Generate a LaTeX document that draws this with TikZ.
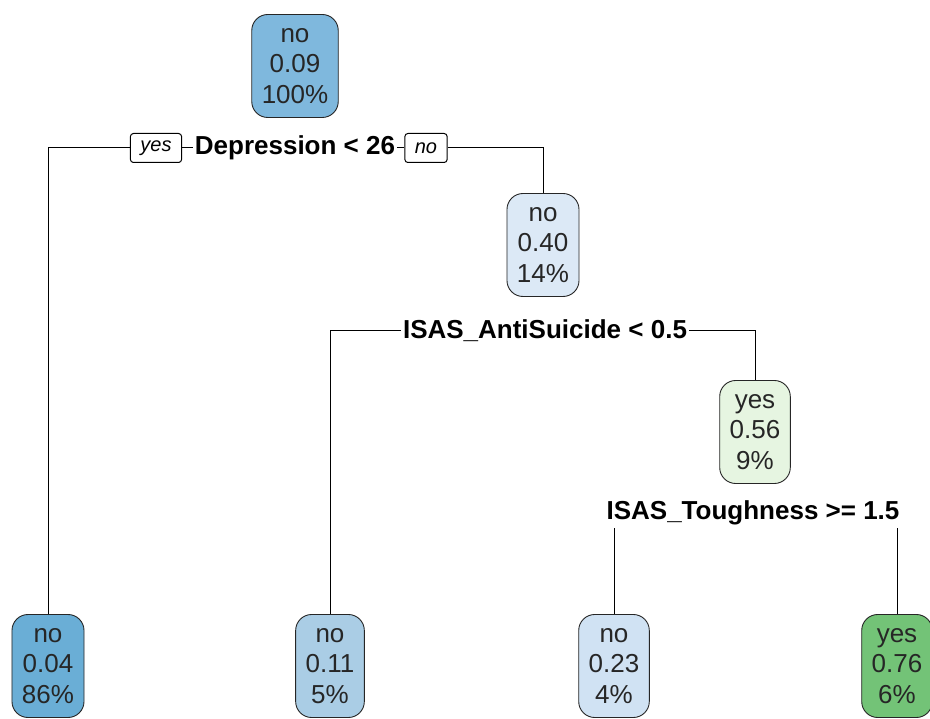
\documentclass[tikz,border=0pt]{standalone}
\usepackage{fontspec}
\setmainfont{Liberation Sans}
\definecolor{cRoot}{HTML}{7FB8DD}
\definecolor{cA}{HTML}{6AAED6}
\definecolor{cB}{HTML}{AACDE5}
\definecolor{cC}{HTML}{D0E2F3}
\definecolor{cD}{HTML}{DCE9F6}
\definecolor{cE}{HTML}{E6F5E1}
\definecolor{cF}{HTML}{73C377}
\begin{document}
\begin{tikzpicture}[x=1pt,y=-1pt,
  leaf/.style={draw=black!85, line width=0.9pt, rounded corners=16pt, align=center,
    font=\fontsize{26}{30.5}\selectfont, inner xsep=10pt, inner ysep=6pt,
    minimum height=103pt, text=black!85},
  split/.style={font=\fontsize{26}{30}\selectfont\bfseries, inner xsep=2pt, inner ysep=3pt},
  tag/.style={draw=black, line width=1pt, fill=white, rounded corners=3pt,
    font=\fontsize{20}{22}\selectfont\itshape, inner xsep=10pt, inner ysep=0pt, minimum height=29pt},
  edge/.style={line width=1pt, black}]
\useasboundingbox (0,0) rectangle (930,719);
% nodes
\node[leaf, fill=cRoot] (root) at (295,66) {no\\0.09\\100\%};
\node[leaf, fill=cD] (n40) at (543,245) {no\\0.40\\14\%};
\node[leaf, fill=cE] (n56) at (755,432) {yes\\0.56\\9\%};
\node[leaf, fill=cA] (l1) at (48,666) {no\\0.04\\86\%};
\node[leaf, fill=cB] (l2) at (330,666) {no\\0.11\\5\%};
\node[leaf, fill=cC] (l3) at (614,666) {no\\0.23\\4\%};
\node[leaf, fill=cF] (l4) at (897,666) {yes\\0.76\\6\%};
% split labels
\node[split] (s1) at (295,148) {Depression < 26};
\node[tag] (ty) at (156,148) {yes};
\node[tag] (tn) at (426,148) {no};
\node[split] (s2) at (545,331) {ISAS\_AntiSuicide < 0.5};
\node[split] (s3) at (753,513) {ISAS\_Toughness >= 1.5};
% connectors
\draw[edge] (ty.west) -| (l1.north);
\draw[edge] (ty.east) -- (s1.west);
\draw[edge] (s1.east) -- (tn.west);
\draw[edge] (tn.east) -| (n40.north);
\draw[edge] (s2.west) -| (l2.north);
\draw[edge] (s2.east) -| (n56.north);
\draw[edge] (s3.south -| l3.north) -- (l3.north);
\draw[edge] (s3.south -| l4.north) -- (l4.north);
\end{tikzpicture}
\end{document}
